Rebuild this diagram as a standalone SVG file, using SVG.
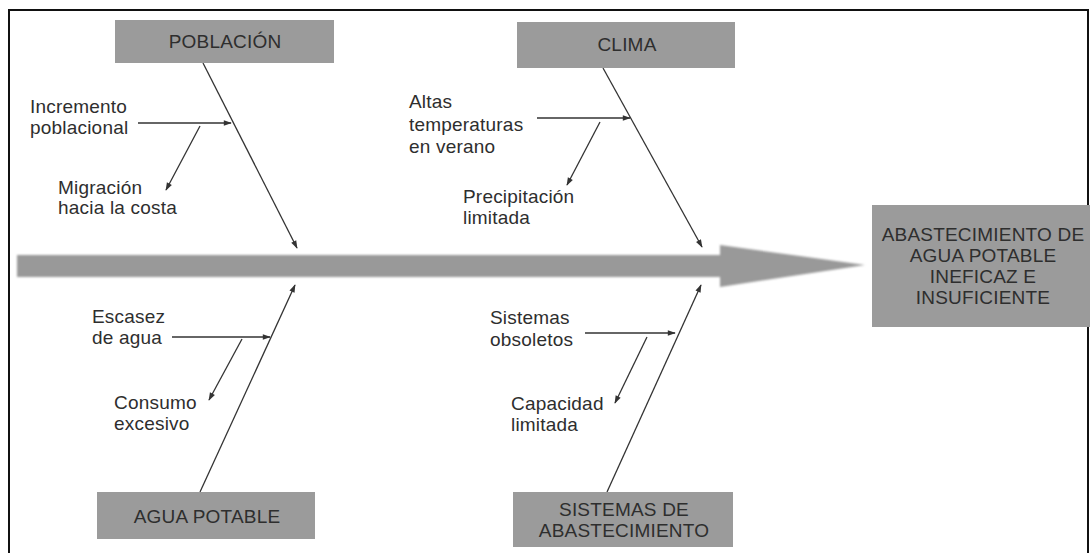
<svg xmlns="http://www.w3.org/2000/svg" width="1092" height="553" viewBox="0 0 1092 553">
<defs>
<style>
.box{fill:#9b9b9b;}
.t{font-family:"Liberation Sans",Arial,sans-serif;font-size:19px;letter-spacing:0.2px;fill:#2e2e2e;}
.c{text-anchor:middle;}
.ln{stroke:#333;stroke-width:1.3;fill:none;marker-end:url(#ah);}
</style>
<marker id="ah" viewBox="0 0 10 10" refX="9" refY="5" markerWidth="9" markerHeight="8" markerUnits="userSpaceOnUse" orient="auto">
<path d="M0,1.5 L10,5 L0,8.5 Z" fill="#333"/>
</marker>
<filter id="soft" x="-5%" y="-30%" width="110%" height="160%">
<feGaussianBlur stdDeviation="1"/>
</filter>
</defs>
<rect x="0" y="0" width="1092" height="553" fill="#fff"/>
<rect x="9" y="10" width="1079" height="560" fill="none" stroke="#111" stroke-width="2"/>

<g id="spine">
<path d="M17,255 L720,255 L720,245 L865,265 L720,287 L720,277 L17,277 Z" fill="#999" filter="url(#soft)"/>
</g>

<g id="connectors">
<line class="ln" x1="203" y1="63" x2="297" y2="248"/>
<line class="ln" x1="138" y1="123" x2="231" y2="123"/>
<line class="ln" x1="200" y1="126" x2="166" y2="190"/>
<line class="ln" x1="603" y1="68" x2="702" y2="247"/>
<line class="ln" x1="537" y1="118" x2="630" y2="118"/>
<line class="ln" x1="600" y1="122" x2="567" y2="185"/>
<line class="ln" x1="200" y1="492" x2="295" y2="285"/>
<line class="ln" x1="172" y1="337" x2="270" y2="337"/>
<line class="ln" x1="242" y1="339" x2="209" y2="400"/>
<line class="ln" x1="607" y1="492" x2="701" y2="285"/>
<line class="ln" x1="585" y1="333" x2="675" y2="333"/>
<line class="ln" x1="647" y1="337" x2="615" y2="403"/>
</g>

<g id="poblacion">
<rect class="box" x="115" y="20" width="219" height="43"/>
<text class="t c" x="225" y="48">POBLACIÓN</text>
</g>
<g id="clima">
<rect class="box" x="517" y="22" width="218" height="46"/>
<text class="t c" x="627" y="51">CLIMA</text>
</g>
<g id="agua-potable">
<rect class="box" x="97" y="492" width="218" height="47"/>
<text class="t c" x="207" y="523">AGUA POTABLE</text>
</g>
<g id="sistemas">
<rect class="box" x="513" y="492" width="220" height="55"/>
<text class="t c" x="624" y="516">SISTEMAS DE</text>
<text class="t c" x="624" y="537">ABASTECIMIENTO</text>
</g>
<g id="efecto">
<rect class="box" x="872" y="205" width="218" height="122"/>
<text class="t c" x="983" y="241">ABASTECIMIENTO DE</text>
<text class="t c" x="983" y="262">AGUA POTABLE</text>
<text class="t c" x="983" y="283">INEFICAZ E</text>
<text class="t c" x="983" y="304">INSUFICIENTE</text>
</g>

<g id="incremento">
<text class="t" x="30" y="113">Incremento</text>
<text class="t" x="30" y="134">poblacional</text>
</g>
<g id="migracion">
<text class="t" x="58" y="194">Migración</text>
<text class="t" x="58" y="214">hacia la costa</text>
</g>
<g id="altas">
<text class="t" x="409" y="108">Altas</text>
<text class="t" x="409" y="131">temperaturas</text>
<text class="t" x="409" y="153">en verano</text>
</g>
<g id="precipitacion">
<text class="t" x="463" y="203">Precipitación</text>
<text class="t" x="463" y="224">limitada</text>
</g>
<g id="escasez">
<text class="t" x="92" y="323">Escasez</text>
<text class="t" x="92" y="344">de agua</text>
</g>
<g id="consumo">
<text class="t" x="114" y="409">Consumo</text>
<text class="t" x="114" y="430">excesivo</text>
</g>
<g id="obsoletos">
<text class="t" x="490" y="324">Sistemas</text>
<text class="t" x="490" y="346">obsoletos</text>
</g>
<g id="capacidad">
<text class="t" x="511" y="410">Capacidad</text>
<text class="t" x="511" y="431">limitada</text>
</g>
</svg>
